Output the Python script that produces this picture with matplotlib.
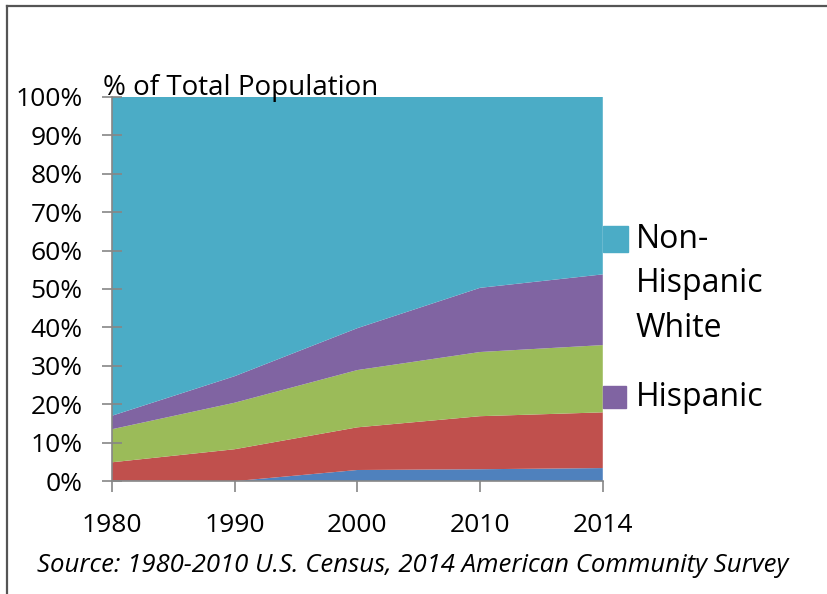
import matplotlib.pyplot as plt
import numpy as np
from matplotlib.lines import Line2D
from matplotlib.patches import Rectangle

plt.rcParams['font.family'] = ['Open Sans', 'DejaVu Sans']

# data (% of total population)
years = ["1980", "1990", "2000", "2010", "2014"]
other = [0.2, 0.0, 2.9, 3.1, 3.4]
black = [4.7, 8.3, 11.1, 13.8, 14.5]
asian = [8.6, 12.1, 14.9, 16.7, 17.5]
hispanic = [3.5, 6.9, 10.9, 16.7, 18.4]
nh_white = [100 - a - b - c - d for a, b, c, d in zip(other, black, asian, hispanic)]

colors = ["#4F81BD", "#C0504D", "#9BBB59", "#8064A2", "#4BACC6"]

fig = plt.figure(figsize=(8.28, 5.94), dpi=100)
ax = fig.add_axes([0.135, 0.19, 0.593, 0.647])

x = np.arange(len(years))
ax.stackplot(x, other, black, asian, hispanic, nh_white, colors=colors, linewidth=0)

ax.set_xlim(0, len(years) - 1)
ax.set_ylim(0, 100)
ax.set_yticks(np.arange(0, 101, 10))
ax.set_yticklabels([f"{v}%" for v in range(0, 101, 10)], fontsize=19)
ax.set_xticks(x)
ax.set_xticklabels(years, fontsize=19)

for s in ["top", "right"]:
    ax.spines[s].set_visible(False)
for s in ["left", "bottom"]:
    ax.spines[s].set_color("#868686")
    ax.spines[s].set_linewidth(1.2)
ax.tick_params(axis="y", direction="inout", length=14, color="#868686", width=1.2, pad=14)
ax.tick_params(axis="x", direction="out", length=8, color="#868686", width=1.2, pad=15)
ax.set_axisbelow(False)

fig.text(0.124, 0.852, "% of Total Population", fontsize=20, va="center", ha="left")

# legend (only two entries)
fig.patches.append(Rectangle((603 / 828, 1 - 252 / 594), 25 / 828, 26 / 594,
                             transform=fig.transFigure, color=colors[4]))
fig.patches.append(Rectangle((603 / 828, 1 - 408 / 594), 23 / 828, 22 / 594,
                             transform=fig.transFigure, color=colors[3]))
fig.text(636 / 828, 1 - 284 / 594, "Non-\nHispanic\nWhite", fontsize=23,
         va="center", ha="left", linespacing=1.45)
fig.text(636 / 828, 1 - 397 / 594, "Hispanic", fontsize=23, va="center", ha="left")

fig.text(37 / 828, 1 - 565 / 594,
         "Source: 1980-2010 U.S. Census, 2014 American Community Survey",
         fontsize=18.5, style="italic", va="center", ha="left")

# outer frame
fig.lines.append(Line2D([7 / 828, 7 / 828], [0, 1 - 6 / 594], transform=fig.transFigure,
                        color="#555555", linewidth=1.6))
fig.lines.append(Line2D([7 / 828, 1], [1 - 6 / 594, 1 - 6 / 594], transform=fig.transFigure,
                        color="#555555", linewidth=1.6))

fig.savefig("out.png", dpi=100)
